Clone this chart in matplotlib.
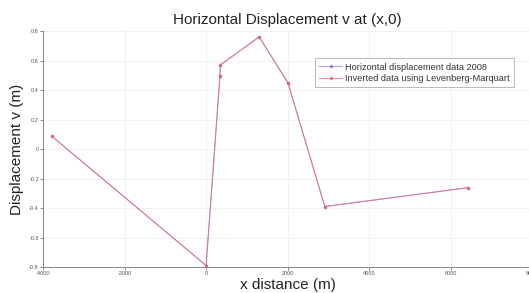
import matplotlib
matplotlib.use("Agg")
import matplotlib.pyplot as plt

plt.rcParams['font.family'] = ['Liberation Sans', 'DejaVu Sans']

x_data = [-3790, 0, 340, 350, 1300, 2010, 2910, 6430]
v_data = [0.088, -0.79, 0.497, 0.57, 0.76, 0.447, -0.39, -0.262]
x_inv = [-3790, 0, 340, 350, 1300, 2010, 2910, 6430]
v_inv = [0.088, -0.79, 0.497, 0.57, 0.76, 0.447, -0.39, -0.262]
xticks = [-4000, -2000, 0, 2000, 4000, 6000, 8000]
yticks = [-0.8, -0.6, -0.4, -0.2, 0, 0.2, 0.4, 0.6, 0.8]

fig = plt.figure(figsize=(5.29, 2.93), dpi=100)
ax = fig.add_axes([0.0813, 0.0887, 0.925, 0.8055])

ax.plot(x_data, v_data, color='#6060e0', lw=0.8, marker='.', ms=3, alpha=0.55,
        label='Horizontal displacement data 2008')
ax.plot(x_inv, v_inv, color='#e8607c', lw=0.7, marker='.', ms=3, alpha=0.75,
        label='Inverted data using Levenberg-Marquart')

ax.set_xlim(-4000, 8000)
ax.set_ylim(-0.8, 0.8)
ax.set_xticks(xticks)
ax.set_yticks(yticks)
ax.set_xticklabels([str(t) for t in xticks])
ax.set_yticklabels([('%g' % t) for t in yticks])
ax.tick_params(labelsize=4, length=2, width=0.5, colors='#555555', pad=1)
ax.grid(True, color='#eeeeee', lw=0.6)
ax.set_axisbelow(True)
for s in ['top', 'right']:
    ax.spines[s].set_visible(False)
for s in ['left', 'bottom']:
    ax.spines[s].set_color('#888888')
    ax.spines[s].set_linewidth(0.7)

ax.set_title('Horizontal Displacement v at (x,0)', fontsize=11, color='#222222', pad=5)
ax.set_xlabel('x distance (m)', fontsize=11, color='#222222', labelpad=1)
ax.set_ylabel('Displacement v (m)', fontsize=11, color='#222222', labelpad=4)

leg = ax.legend(loc='upper right', bbox_to_anchor=(0.972, 0.905), fontsize=6.6,
                frameon=True, fancybox=False, handlelength=2.5, borderpad=0.5,
                labelspacing=0.25, handletextpad=0.3)
leg.get_frame().set_edgecolor('#999999')
leg.get_frame().set_linewidth(0.6)
for t in leg.get_texts():
    t.set_color('#333333')

fig.savefig('out.png', dpi=100)
